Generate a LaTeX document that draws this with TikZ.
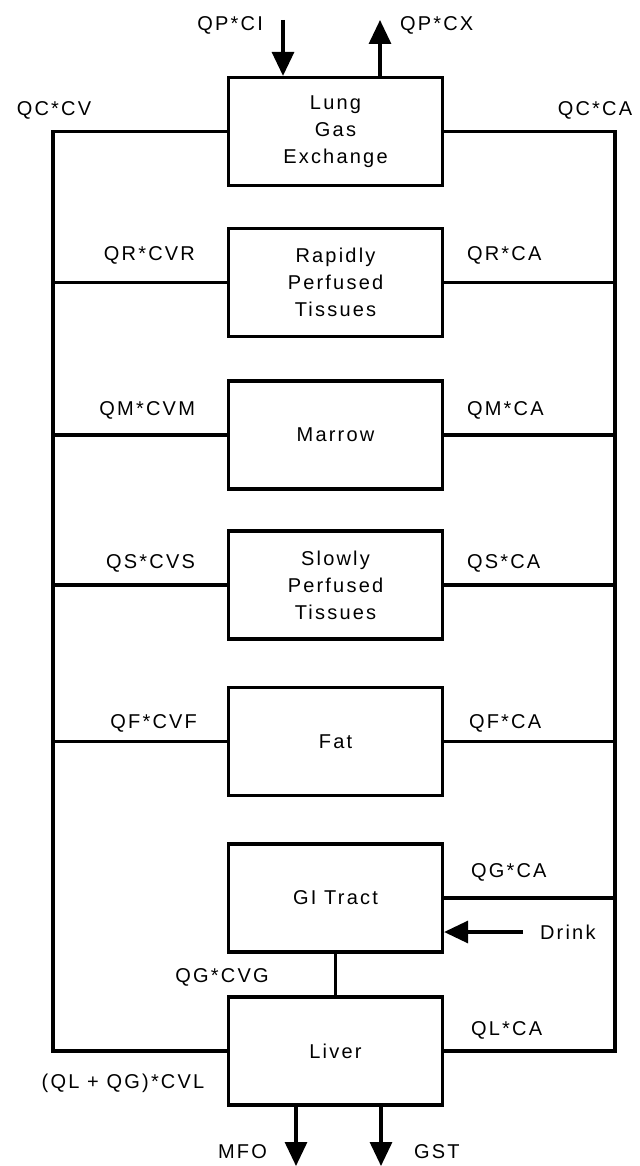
\documentclass[tikz,border=0pt]{standalone}
\usepackage{fontspec}
\setmainfont[LetterSpace=11]{Liberation Sans}
\usetikzlibrary{arrows.meta}

\begin{document}
\begin{tikzpicture}[x=0.5pt,y=-0.5pt,
    organ/.style={draw,line width=1.6pt,minimum width=107pt,minimum height=54pt,align=center,inner sep=2pt},
    flow/.style={line width=1.6pt},
    io/.style={line width=1.6pt,-{Triangle[length=12pt,width=11pt]}},
    every node/.append style={font=\fontsize{10}{13.5}\selectfont}]
  \useasboundingbox (0,0) rectangle (639,1166);

  % Compartments
  \node[organ] (lung)   at (335.5,131.5) {Lung\\Gas\\Exchange};
  \node[organ] (rapid)  at (335.5,282.5) {Rapidly\\Perfused\\Tissues};
  \node[organ] (marrow) at (335.5,435)   {Marrow};
  \node[organ] (slow)   at (335.5,585)   {Slowly\\Perfused\\Tissues};
  \node[organ] (fat)    at (335.5,741.5) {Fat};
  \node[organ] (gi)     at (335.5,898)   {GI Tract};
  \node[organ] (liver)  at (335.5,1051)  {Liver};

  % Venous and arterial buses
  \coordinate (vbus) at (53,0);
  \coordinate (abus) at (615,0);

  % Outer loop through lung and liver
  \draw[flow] (lung.west) -- (lung.west -| vbus) -- (liver.west -| vbus) -- (liver.west);
  \draw[flow] (lung.east) -- (lung.east -| abus) -- (liver.east -| abus) -- (liver.east);

  % Branches to the tissues
  \foreach \org in {rapid,marrow,slow,fat}{
    \draw[flow] (\org.west) -- (\org.west -| vbus);
    \draw[flow] (\org.east) -- (\org.east -| abus);
  }
  \draw[flow] (gi.east) -- (gi.east -| abus);
  \draw[flow] (gi.south) -- (liver.north);

  % Inputs and outputs
  \coordinate (ci) at (283,20);
  \coordinate (cx) at (380,20);
  \coordinate (dr) at (523,932);
  \coordinate (mfo) at (296,1166);
  \coordinate (gst) at (381,1166);
  \draw[io] (ci) -- (ci |- lung.north);
  \draw[io] (cx |- lung.north) -- (cx);
  \draw[io] (dr) -- (dr -| gi.east);
  \draw[io] (mfo |- liver.south) -- (mfo);
  \draw[io] (gst |- liver.south) -- (gst);

  % Flow labels
  \node[anchor=east] (lci) at (270,25) {QP*CI};
  \node[anchor=west] (lcx) at (393,25) {QP*CX};
  \node (lcv) at (54,110) {QC*CV};
  \node (lca) at (595,110) {QC*CA};
  \node[anchor=east] (lqr) at (202,255) {QR*CVR};
  \node[anchor=west] (lrca) at (460,255) {QR*CA};
  \node[anchor=east] (lqm) at (202,410) {QM*CVM};
  \node[anchor=west] (lmca) at (460,410) {QM*CA};
  \node[anchor=east] (lqs) at (202,563) {QS*CVS};
  \node[anchor=west] (lsca) at (460,563) {QS*CA};
  \node[anchor=east] (lqf) at (204,723) {QF*CVF};
  \node[anchor=west] (lfca) at (462,723) {QF*CA};
  \node[anchor=west] (lgca) at (464,872) {QG*CA};
  \node[anchor=west] (ldr) at (533,932) {Drink};
  \node (lqg) at (222,977) {QG*CVG};
  \node[anchor=west] (llca) at (464,1030) {QL*CA};
  \node (lcvl) at (123,1083) {(QL + QG)*CVL};
  \node[anchor=east] (lmfo) at (274,1152) {MFO};
  \node[anchor=west] (lgst) at (407,1152) {GST};

\end{tikzpicture}
\end{document}
